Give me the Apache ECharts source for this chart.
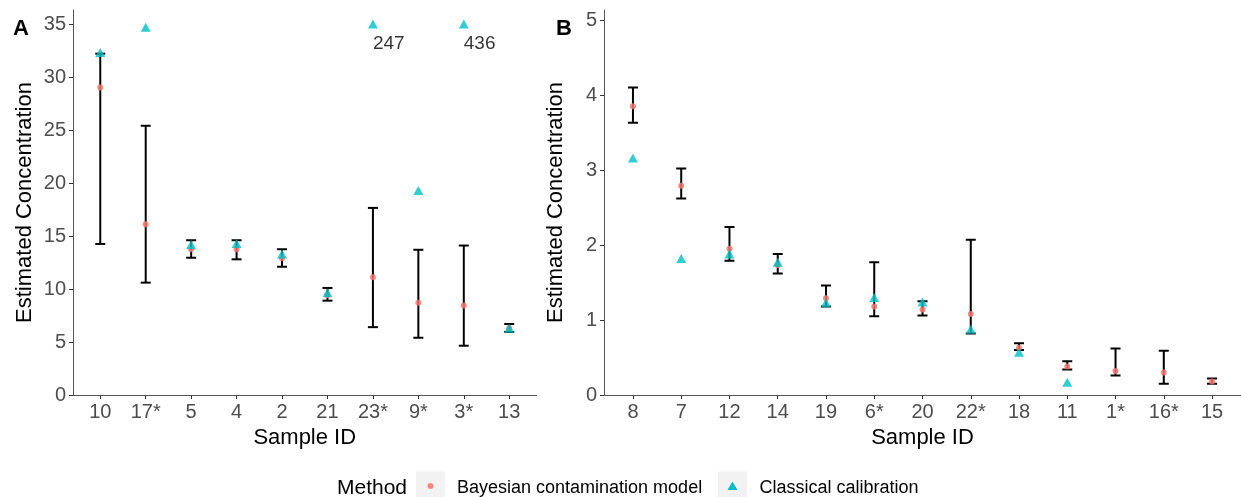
<!DOCTYPE html>
<html>
<head>
<meta charset="utf-8">
<script src="https://cdn.jsdelivr.net/npm/echarts@6/dist/echarts.min.js"></script>
<style>html,body{margin:0;padding:0;background:#fff;}#c{width:1241px;height:497px;}</style>
</head>
<body>
<div id="c"></div>
<script>
// ---- Panel A data ----
const catsA = ['10','17*','5','4','2','21','23*','9*','3*','13'];
const bayesA = [29.0, 16.1, 13.75, 13.75, 12.9, 9.4, 11.1, 8.7, 8.45, 6.3];
const lowerA = [14.25, 10.6, 12.95, 12.8, 12.1, 8.9, 6.4, 5.4, 4.65, 5.95];
const upperA = [32.2, 25.4, 14.6, 14.6, 13.75, 10.1, 17.65, 13.7, 14.1, 6.7];
const classicalA = [32.3, 34.7, 14.2, 14.3, 13.3, 9.65, 247, 19.3, 436, 6.3];
const capA = 35;
const yTicksA = [0, 5, 10, 15, 20, 25, 30, 35];

// ---- Panel B data ----
const catsB = ['8','7','12','14','19','6*','20','22*','18','11','1*','16*','15'];
const bayesB = [3.85, 2.79, 1.95, 1.73, 1.29, 1.18, 1.14, 1.08, 0.63, 0.38, 0.32, 0.30, 0.18];
const lowerB = [3.63, 2.62, 1.79, 1.62, 1.18, 1.05, 1.06, 0.82, 0.60, 0.34, 0.26, 0.15, 0.15];
const upperB = [4.10, 3.02, 2.24, 1.88, 1.46, 1.77, 1.25, 2.07, 0.69, 0.45, 0.62, 0.59, 0.22];
const classicalB = [3.16, 1.82, 1.88, 1.77, 1.23, 1.30, 1.24, 0.876, 0.57, 0.17, null, null, null];
const yTicksB = [0, 1, 2, 3, 4, 5];

const FONT = "'Liberation Sans', Arial, sans-serif";
const RED = '#F8766D', CYAN = '#00BFC4';

function idx(arr){ return arr.map((_, i) => i); }

function xAxisFor(cats, gridIndex){
  return {
    type: 'value', gridIndex, min: -0.6, max: cats.length - 1 + 0.6,
    name: 'Sample ID', nameLocation: 'middle', nameGap: 31,
    nameTextStyle: { fontFamily: FONT, fontSize: 22, color: '#000' },
    axisLine: { show: true, onZero: false, lineStyle: { color: '#555', width: 1 } },
    axisTick: { show: true, length: 4, customValues: idx(cats), lineStyle: { color: '#333' } },
    axisLabel: { customValues: idx(cats), formatter: v => cats[Math.round(v)], fontFamily: FONT, fontSize: 20, color: '#4D4D4D', margin: 7 },
    splitLine: { show: false }
  };
}
function yAxisFor(max, ticks, gridIndex){
  return {
    type: 'value', gridIndex, min: 0, max,
    name: 'Estimated Concentration', nameLocation: 'middle', nameGap: 37, nameRotate: 90,
    nameTextStyle: { fontFamily: FONT, fontSize: 22, color: '#000' },
    axisLine: { show: true, onZero: false, lineStyle: { color: '#555', width: 1 } },
    axisTick: { show: true, length: 4, customValues: ticks, lineStyle: { color: '#333' } },
    axisLabel: { customValues: ticks, fontFamily: FONT, fontSize: 20, color: '#4D4D4D', margin: 7 },
    splitLine: { show: false }
  };
}

function errSeries(lower, upper, ai){
  return {
    type: 'custom', xAxisIndex: ai, yAxisIndex: ai, z: 2,
    data: lower.map((l, i) => [i, l, upper[i]]),
    encode: { x: 0, y: [1, 2] },
    renderItem(params, api){
      const x = api.value(0), lo = api.value(1), hi = api.value(2);
      const a = api.coord([x, lo]), b = api.coord([x, hi]);
      const hw = 5;
      const style = { stroke: '#000', lineWidth: 2, fill: null };
      return { type: 'group', children: [
        { type: 'line', shape: { x1: a[0], y1: a[1], x2: b[0], y2: b[1] }, style },
        { type: 'line', shape: { x1: a[0]-hw, y1: a[1], x2: a[0]+hw, y2: a[1] }, style },
        { type: 'line', shape: { x1: b[0]-hw, y1: b[1], x2: b[0]+hw, y2: b[1] }, style }
      ]};
    }
  };
}
function bayesSeries(vals, ai){
  return {
    type: 'scatter', xAxisIndex: ai, yAxisIndex: ai, z: 3, symbol: 'circle', symbolSize: 6,
    itemStyle: { color: RED, opacity: 0.85 },
    data: vals.map((v, i) => [i, v])
  };
}
function classSeries(vals, ai, cap){
  const data = [];
  vals.forEach((v, i) => {
    if (v === null) return;
    if (cap !== undefined && v > cap) {
      data.push({ value: [i, cap], label: { show: true, formatter: String(v) } });
    } else data.push([i, v]);
  });
  return {
    type: 'scatter', xAxisIndex: ai, yAxisIndex: ai, z: 4, symbol: 'triangle', symbolSize: [10, 9],
    itemStyle: { color: CYAN },
    label: { show: false, position: [5, 15], align: 'left', verticalAlign: 'top', fontFamily: FONT, fontSize: 19, color: '#000' },
    data
  };
}

const chart = echarts.init(document.getElementById('c'), null, { renderer: 'canvas' });
chart.setOption({
  animation: false,
  backgroundColor: '#fff',
  grid: [
    { left: 73, top: 10, width: 463.5, height: 385 },
    { left: 604, top: 10, width: 637, height: 385 }
  ],
  xAxis: [ xAxisFor(catsA, 0), xAxisFor(catsB, 1) ],
  yAxis: [ yAxisFor(385/10.6, yTicksA, 0), yAxisFor(385/75, yTicksB, 1) ],
  series: [
    errSeries(lowerA, upperA, 0), bayesSeries(bayesA, 0), classSeries(classicalA, 0, capA),
    errSeries(lowerB, upperB, 1), bayesSeries(bayesB, 1), classSeries(classicalB, 1)
  ],
  graphic: [
    { type: 'text', left: 13, top: 18, style: { text: 'A', fontFamily: FONT, fontSize: 22, fontWeight: 'bold', fill: '#000' } },
    { type: 'text', left: 556, top: 18, style: { text: 'B', fontFamily: FONT, fontSize: 22, fontWeight: 'bold', fill: '#000' } },
    { type: 'text', style: { x: 337, y: 488, verticalAlign: 'middle', text: 'Method', fontFamily: FONT, fontSize: 21, fill: '#000' } },
    { type: 'rect', shape: { x: 416, y: 471.5, width: 29, height: 29 }, style: { fill: '#F2F2F2' } },
    { type: 'circle', shape: { cx: 430.5, cy: 486, r: 3 }, style: { fill: RED, opacity: 0.85 } },
    { type: 'text', style: { x: 457, y: 488, verticalAlign: 'middle', text: 'Bayesian contamination model', fontFamily: FONT, fontSize: 18, fill: '#000' } },
    { type: 'rect', shape: { x: 718, y: 471.5, width: 29, height: 29 }, style: { fill: '#F2F2F2' } },
    { type: 'polygon', shape: { points: [[732.5, 481.5], [737.5, 490], [727.5, 490]] }, style: { fill: CYAN } },
    { type: 'text', style: { x: 759.5, y: 488, verticalAlign: 'middle', text: 'Classical calibration', fontFamily: FONT, fontSize: 18, fill: '#000' } }
  ]
});
</script>
</body>
</html>
